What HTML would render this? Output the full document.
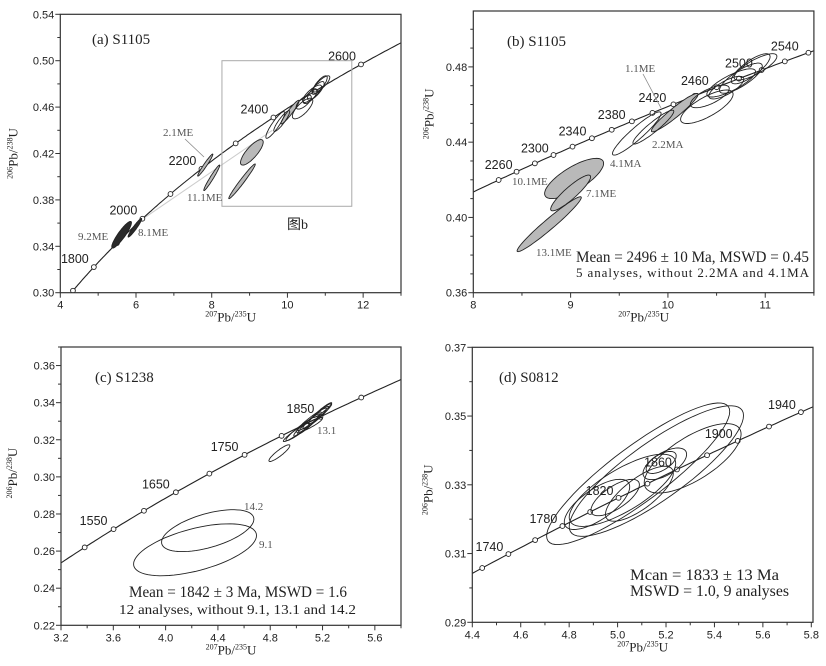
<!DOCTYPE html>
<html><head><meta charset="utf-8">
<style>
html,body{margin:0;padding:0;background:#fff;width:826px;height:666px;overflow:hidden;}
svg{display:block;}
.tick{font-family:"Liberation Sans",sans-serif;font-size:11px;fill:#222;}
.age{font-family:"Liberation Sans",sans-serif;font-size:12.5px;fill:#222;}
.ser{font-family:"Liberation Serif",serif;fill:#222;}
.lab{font-family:"Liberation Serif",serif;font-size:11px;fill:#555;}
</style></head>
<body>
<svg id="fig" width="826" height="666" viewBox="0 0 826 666" xmlns="http://www.w3.org/2000/svg"></svg>
<script>
// ---------- data ----------
// Panel a (S1105)
const markA = [1700,1800,1900,2000,2100,2200,2300,2400,2500,2600];
const ageLabA = [1800,2000,2200,2400,2600];
const ellA_cx  = [5.62,5.97,7.83,8.00,9.06,8.80,10.07,9.85,9.68,10.40,10.43,10.65,10.75,10.85,10.90,10.60];
const ellA_cy  = [0.350,0.356,0.410,0.399,0.421,0.396,0.4557,0.448,0.4446,0.4588,0.4643,0.4715,0.474,0.479,0.480,0.469];
const ellA_sx  = [0.26,0.18,0.20,0.21,0.30,0.35,0.24,0.21,0.25,0.27,0.20,0.25,0.22,0.20,0.22,0.18];
const ellA_sy  = [0.0115,0.008,0.0095,0.011,0.0110,0.015,0.0102,0.009,0.0115,0.0089,0.006,0.0075,0.008,0.008,0.007,0.006];
const ellA_rho = [0.9,0.95,0.97,0.97,0.8,0.98,0.95,0.9,0.9,0.75,0.7,0.8,0.8,0.8,0.8,0.75];
const ellA_fill= ["dark","dark","grey","grey","grey","grey","grey","white","white","white","white","white","white","white","white","white"];
// Panel b (S1105 detail)
const markB = [2260,2280,2300,2320,2340,2360,2380,2400,2420,2440,2460,2480,2500,2520,2540,2560];
const ageLabB = [2260,2300,2340,2380,2420,2460,2500,2540];
const ellB_cx  = [9.036,9.00,8.78,10.07,9.85,9.68,10.40,10.43,10.65,10.75,10.85,10.90,10.60];
const ellB_cy  = [0.4207,0.413,0.3964,0.4557,0.448,0.4446,0.4588,0.4643,0.4715,0.474,0.479,0.480,0.469];
const ellB_sx  = [0.303,0.205,0.33,0.24,0.21,0.25,0.27,0.20,0.25,0.22,0.20,0.22,0.18];
const ellB_sy  = [0.0107,0.0095,0.0146,0.0102,0.009,0.0115,0.0089,0.006,0.0075,0.008,0.008,0.007,0.006];
const ellB_rho = [0.75,0.9,0.97,0.95,0.93,0.93,0.75,0.7,0.8,0.8,0.8,0.8,0.75];
const ellB_fill= ["grey","grey","grey","grey","white","white","white","white","white","white","white","white","white"];
// Panel c (S1238)
const markC = [1500,1550,1600,1650,1700,1750,1800,1850,1900];
const ageLabC = [1550,1650,1750,1850];
const ellC_cx  = [4.322,4.225,4.87,5.00,5.04,5.08,5.10,5.12,5.15,5.18,5.10,5.20];
const ellC_cy  = [0.271,0.2607,0.3128,0.324,0.326,0.328,0.329,0.331,0.332,0.334,0.328,0.336];
const ellC_sx  = [0.353,0.47,0.08,0.10,0.12,0.10,0.09,0.11,0.10,0.09,0.10,0.07];
const ellC_sy  = [0.0113,0.014,0.0045,0.005,0.0065,0.006,0.006,0.006,0.006,0.0055,0.004,0.004];
const ellC_rho = [0.55,0.55,0.9,0.95,0.95,0.95,0.95,0.95,0.95,0.95,0.9,0.95];
const ellC_fill= ["white","white","white","white","white","white","white","white","white","white","white","white"];
// Panel d (S0812)
const markD = [1720,1740,1760,1780,1800,1820,1840,1860,1880,1900,1920,1940];
const ageLabD = [1740,1780,1820,1860,1900,1940];
const ellD_cx  = [5.085,5.16,5.31,5.02,4.915,5.09,5.195,4.99,5.18];
const ellD_cy  = [0.3332,0.334,0.3377,0.3284,0.3243,0.3274,0.3361,0.3263,0.3365];
const ellD_sx  = [0.378,0.36,0.20,0.22,0.135,0.14,0.09,0.10,0.062];
const ellD_sy  = [0.0206,0.019,0.0101,0.0105,0.0073,0.008,0.0046,0.0053,0.0032];
const ellD_rho = [0.88,0.85,0.7,0.75,0.7,0.75,0.6,0.7,0.6];
const ellD_fill= ["white","white","white","white","white","white","white","white","white"];

// ---------- drawing ----------
const NS="http://www.w3.org/2000/svg";
const svg=document.getElementById('fig');
const L235=9.8485e-10, L238=1.55125e-10;
function conc(t){return [Math.exp(L235*t*1e6)-1, Math.exp(L238*t*1e6)-1];}
function mk(tag,attrs,parent){const e=document.createElementNS(NS,tag);for(const k in attrs)e.setAttribute(k,attrs[k]);(parent||svg).appendChild(e);return e;}
function fmt(v,d){return v.toFixed(d);}

function panel(cfg){
  const g=mk('g',{});
  
  
  const X=v=>cfg.x0+(v-cfg.xmin)/(cfg.xmax-cfg.xmin)*(cfg.x1-cfg.x0);
  const Y=v=>cfg.y1-(v-cfg.ymin)/(cfg.ymax-cfg.ymin)*(cfg.y1-cfg.y0);
  const cid='clip-'+cfg.id;
  const cp=mk('clipPath',{id:cid},g);
  mk('rect',{x:cfg.x0,y:cfg.y0,width:cfg.x1-cfg.x0,height:cfg.y1-cfg.y0},cp);
  const plot=mk('g',{'clip-path':'url(#'+cid+')'},g);
  if(cfg.extra) cfg.extra(plot,X,Y);
  let d='';
  for(let t=1000;t<=3000;t+=4){const p=conc(t);d+=(d?'L':'M')+X(p[0]).toFixed(1)+' '+Y(p[1]).toFixed(1);}
  const cl=mk('path',{d:d,fill:'none',stroke:'#222','stroke-width':1.1},plot);
  
  
  cfg.marks.forEach(t=>{const p=conc(t);
    const c=mk('circle',{cx:X(p[0]),cy:Y(p[1]),r:2.4,fill:'#fff',stroke:'#222','stroke-width':0.9},plot);
    
    
  });
  const E=cfg.ell;
  for(let i=0;i<E.cx.length;i++){
    let pd='';const r=E.rho[i],q=Math.sqrt(1-r*r);
    for(let k=0;k<=72;k++){const th=k/72*2*Math.PI;
      const vx=E.cx[i]+E.sx[i]*Math.cos(th);
      const vy=E.cy[i]+E.sy[i]*(r*Math.cos(th)+q*Math.sin(th));
      pd+=(k?'L':'M')+X(vx).toFixed(1)+' '+Y(vy).toFixed(1);}
    const f=E.fill[i]==='dark'?'#2a2a2a':E.fill[i]==='grey'?'#b9b9b9':'none';
    const el=mk('path',{d:pd+'Z',fill:f,stroke:'#222','stroke-width':0.9},plot);
    
    
  }
  cfg.ageLabs.forEach(t=>{const p=conc(t);
    const tx=mk('text',{x:X(p[0])+cfg.ldx,y:Y(p[1])+cfg.ldy,'text-anchor':'middle',class:'age'},g);
    tx.textContent=t;
    
    
  });
  const fr=mk('rect',{x:cfg.x0,y:cfg.y0,width:cfg.x1-cfg.x0,height:cfg.y1-cfg.y0,fill:'none',stroke:'#333','stroke-width':1.2},g);
  
  
  const ax=mk('g',{},g);
  
  
  for(let v=cfg.xmin;v<=cfg.xmax+1e-9;v+=cfg.xminor){
    const major=Math.abs(Math.round((v-cfg.xmin)/cfg.xmajor)*cfg.xmajor-(v-cfg.xmin))<1e-6;
    mk('line',{x1:X(v),x2:X(v),y1:cfg.y1,y2:cfg.y1+(major?5:3),stroke:'#333','stroke-width':1},ax);
    if(major){const t=mk('text',{x:X(v),y:cfg.y1+16,'text-anchor':'middle',class:'tick'},ax);t.textContent=fmt(v,cfg.xd);}
  }
  const ay=mk('g',{},g);
  
  
  for(let v=cfg.ymin;v<=cfg.ymax+1e-9;v+=cfg.yminor){
    const major=Math.abs(Math.round((v-cfg.ymin)/cfg.ymajor)*cfg.ymajor-(v-cfg.ymin))<1e-6;
    mk('line',{x1:cfg.x0,x2:cfg.x0-(major?5:3),y1:Y(v),y2:Y(v),stroke:'#333','stroke-width':1},ay);
    if(major){const t=mk('text',{x:cfg.x0-6,y:Y(v)+4,'text-anchor':'end',class:'tick'},ay);t.textContent=fmt(v,2);}
  }
  const xt=mk('text',{x:(cfg.x0+cfg.x1)/2,y:cfg.y1+29,'text-anchor':'middle',class:'ser','font-size':13},g);
  xt.innerHTML='<tspan font-size="8" dy="-5">207</tspan><tspan dy="5">Pb/</tspan><tspan font-size="8" dy="-5">235</tspan><tspan dy="5">U</tspan>';
  
  
  const yc=(cfg.y0+cfg.y1)/2+cfg.ytdy;
  const yt=mk('text',{x:0,y:0,'text-anchor':'middle',class:'ser','font-size':13,transform:'translate('+(cfg.x0-cfg.ytdx)+','+yc+') rotate(-90)'},g);
  yt.innerHTML='<tspan font-size="8" dy="-5">206</tspan><tspan dy="5">Pb/</tspan><tspan font-size="8" dy="-5">238</tspan><tspan dy="5">U</tspan>';
  
  
  return {g:g,X:X,Y:Y};
}
function txt(g,x,y,s,cls,size,name,extra){
  const t=mk('text',Object.assign({x:x,y:y,class:cls},extra||{}),g);
  if(size)t.setAttribute('font-size',size);
  t.textContent=s;
  
  
  return t;
}

// Panel a
const pa=panel({id:'a',name:'panel-a-s1105',x0:60.3,x1:401,y0:14.3,y1:292.7,xmin:4,xmax:13,ymin:0.30,ymax:0.54,
  xmajor:2,xminor:1,ymajor:0.04,yminor:0.02,xd:0,marks:markA,ageLabs:ageLabA,ldx:-19,ldy:-4,ytdx:43,ytdy:0,
  ell:{cx:ellA_cx,cy:ellA_cy,sx:ellA_sx,sy:ellA_sy,rho:ellA_rho,fill:ellA_fill},
  extra:(p,X,Y)=>{
    const l=mk('line',{x1:X(6.2),y1:Y(0.364),x2:X(9.6),y2:Y(0.44),stroke:'#ccc','stroke-width':1},p);
    
    
  }});
{
  const X=pa.X,Y=pa.Y;
  const bx=mk('rect',{x:X(8.27),y:Y(0.50),width:X(11.7)-X(8.27),height:Y(0.3745)-Y(0.50),fill:'none',stroke:'#aaa','stroke-width':1},pa.g);
  
  
  txt(pa.g,92,44,'(a) S1105','ser',15,'panel-title');
  txt(pa.g,163,136,'2.1ME','lab',11,'label-2.1me');
  mk('line',{x1:185,y1:139,x2:204,y2:157,stroke:'#888','stroke-width':0.8},pa.g);
  txt(pa.g,187,201,'11.1ME','lab',11,'label-11.1me');
  txt(pa.g,78,240,'9.2ME','lab',11,'label-9.2me');
  txt(pa.g,138,236,'8.1ME','lab',11,'label-8.1me');
  txt(pa.g,287,229,'图b','ser',14,'inset-label',{'font-family':'"Liberation Sans","Noto Sans CJK SC",sans-serif'});
}
// Panel b
const pb=panel({id:'b',name:'panel-b-s1105',x0:473.3,x1:813.9,y0:11,y1:292.7,xmin:8,xmax:11.5,ymin:0.36,ymax:0.5097,
  xmajor:1,xminor:0.5,ymajor:0.04,yminor:0.01,xd:0,marks:markB,ageLabs:ageLabB,ldx:0,ldy:-11,ytdx:40,ytdy:-38,
  ell:{cx:ellB_cx,cy:ellB_cy,sx:ellB_sx,sy:ellB_sy,rho:ellB_rho,fill:ellB_fill}});
{
  const g=pb.g;
  txt(g,507,46,'(b) S1105','ser',15,'panel-title');
  txt(g,625,72,'1.1ME','lab',11,'label-1.1me');
  mk('line',{x1:643,y1:74,x2:661,y2:108,stroke:'#888','stroke-width':0.8},g);
  txt(g,652,148,'2.2MA','lab',11,'label-2.2ma');
  txt(g,610,167,'4.1MA','lab',11,'label-4.1ma');
  txt(g,512,185,'10.1ME','lab',11,'label-10.1me');
  txt(g,586,197,'7.1ME','lab',11,'label-7.1me');
  txt(g,536,256,'13.1ME','lab',11,'label-13.1me');
  txt(g,576,262,'Mean = 2496 ± 10 Ma, MSWD = 0.45','ser',16,'mean-age-text',{textLength:233,lengthAdjust:'spacingAndGlyphs'});
  txt(g,576,277,'5 analyses, without 2.2MA and 4.1MA','ser',13,'analyses-text',{textLength:233,lengthAdjust:'spacing'});
}
// Panel c
const pc=panel({id:'c',name:'panel-c-s1238',x0:61,x1:401,y0:347,y1:625.3,xmin:3.2,xmax:5.8,ymin:0.22,ymax:0.37,
  xmajor:0.4,xminor:0.2,ymajor:0.02,yminor:0.01,xd:1,marks:markC,ageLabs:ageLabC,ldx:-20,ldy:-4,ytdx:44,ytdy:-13,
  ell:{cx:ellC_cx,cy:ellC_cy,sx:ellC_sx,sy:ellC_sy,rho:ellC_rho,fill:ellC_fill}});
{
  const g=pc.g;
  txt(g,95,382,'(c) S1238','ser',15,'panel-title');
  txt(g,244,510,'14.2','lab',11,'label-14.2');
  txt(g,259,548,'9.1','lab',11,'label-9.1');
  txt(g,317,434,'13.1','lab',11,'label-13.1');
  txt(g,129,597,'Mean = 1842 ± 3 Ma, MSWD = 1.6','ser',16,'mean-age-text',{textLength:218,lengthAdjust:'spacingAndGlyphs'});
  txt(g,119,614,'12 analyses, without 9.1, 13.1 and 14.2','ser',14,'analyses-text',{textLength:237,lengthAdjust:'spacingAndGlyphs'});
}
// Panel d
const pd=panel({id:'d',name:'panel-d-s0812',x0:472.3,x1:813,y0:347.3,y1:622.3,xmin:4.4,xmax:5.807,ymin:0.29,ymax:0.37,
  xmajor:0.2,xminor:0.1,ymajor:0.02,yminor:0.01,xd:1,marks:markD,ageLabs:ageLabD,ldx:-19,ldy:-3,ytdx:40,ytdy:5,
  ell:{cx:ellD_cx,cy:ellD_cy,sx:ellD_sx,sy:ellD_sy,rho:ellD_rho,fill:ellD_fill}});
{
  const g=pd.g;
  txt(g,499,382,'(d) S0812','ser',15,'panel-title');
  txt(g,630,580,'Mcan = 1833 ± 13  Ma','ser',16,'mean-age-text',{textLength:149,lengthAdjust:'spacingAndGlyphs'});
  txt(g,630,596,'MSWD = 1.0, 9 analyses','ser',16,'analyses-text',{textLength:159,lengthAdjust:'spacingAndGlyphs'});
}
</script>
</body></html>
